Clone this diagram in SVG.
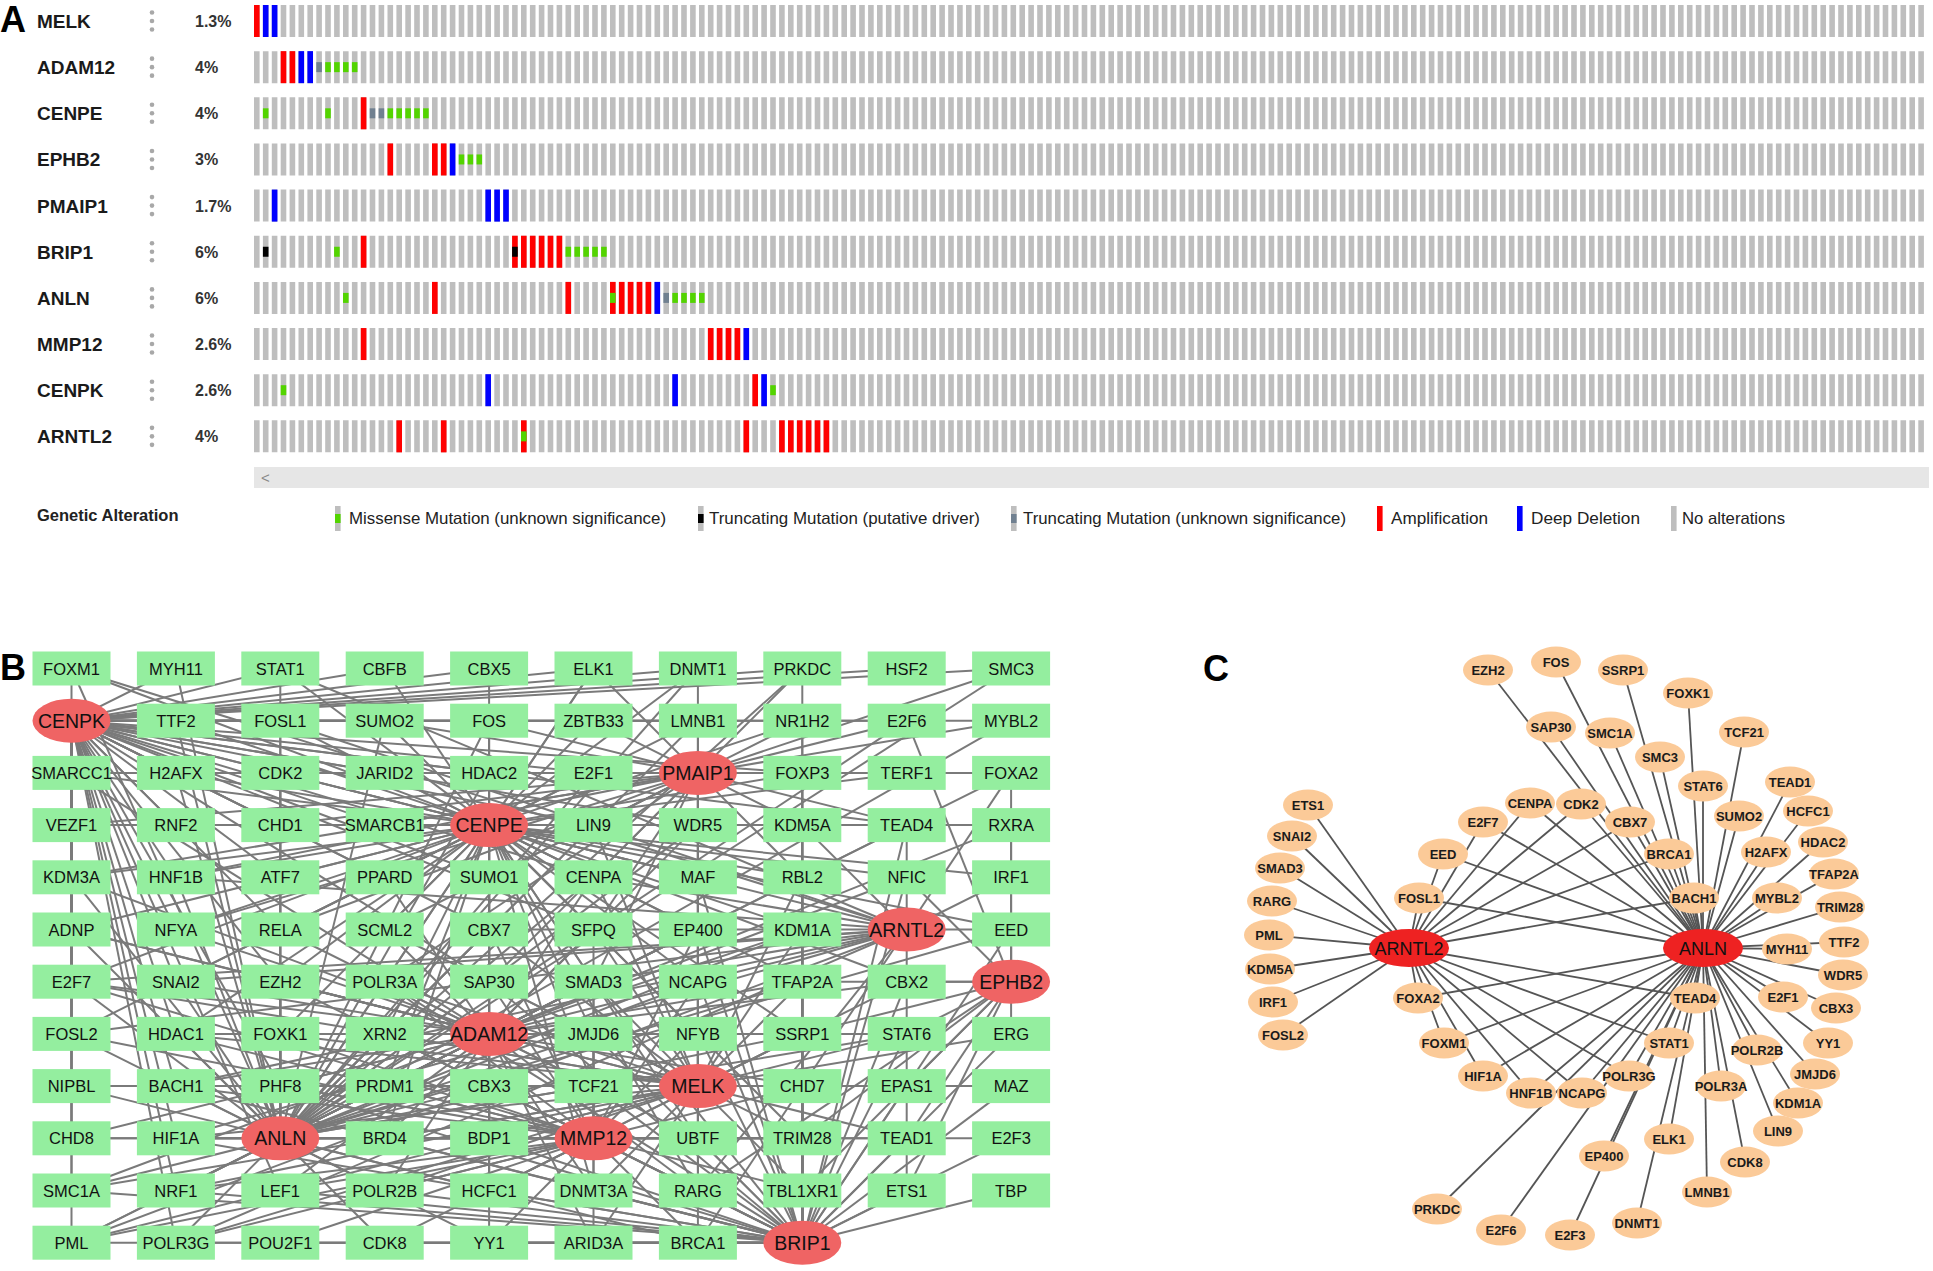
<svg xmlns="http://www.w3.org/2000/svg" width="1933" height="1271" viewBox="0 0 1933 1271">
<style>
text{font-family:"Liberation Sans",Arial,sans-serif}
.pl{font-size:36px;font-weight:bold;fill:#000}
.gn{font-size:19px;font-weight:bold;fill:#1a1a1a}
.pc{font-size:16px;font-weight:bold;fill:#333}
.dt{fill:#a8a8a8}
.track{stroke:#bebebe;stroke-width:32;stroke-dasharray:5.6 3.3}
.amp{fill:#ff0000}.del{fill:#0000ff}.mis{fill:#53d400}.trp{fill:#000}.tru{fill:#708090}.gry{fill:#bebebe}
.lg{font-size:16.5px;fill:#222}
.bn rect{fill:#94ee9f}
.bn text,.bh text{text-anchor:middle;fill:#111}
.bn text{font-size:16.5px}
.bh ellipse{fill:#ef6464}
.bh text{font-size:19.5px}
.eb line{stroke:#7a7a7a;stroke-width:2;vector-effect:non-scaling-stroke}
.ec line{stroke:#555;stroke-width:1.8}
.cs ellipse{fill:#fbca98}
.cs text{font-size:13px;font-weight:bold;text-anchor:middle;fill:#1a1a1a}
.ch ellipse{fill:#ee2222}
.ch text{font-size:18px;text-anchor:middle;fill:#111}
</style>

<!-- ================= Panel A ================= -->
<text class="pl" x="0" y="32">A</text>
<g id="panelA">
<g id="row-MELK" transform="translate(0 5)">
<text class="gn" x="37" y="23">MELK</text>
<circle class="dt" cx="152" cy="7.5" r="2.3"/><circle class="dt" cx="152" cy="16" r="2.3"/><circle class="dt" cx="152" cy="24.5" r="2.3"/>
<text class="pc" x="195" y="22">1.3%</text>
<line class="track" x1="254" y1="16" x2="1924" y2="16"/>
<g transform="translate(254 0) scale(8.9 1)">
<rect class="amp" x="0" width=".63" height="32"/><rect class="del" x="1" width=".63" height="32"/><rect class="del" x="2" width=".63" height="32"/>
</g></g>
<g id="row-ADAM12" transform="translate(0 51.15)">
<text class="gn" x="37" y="23">ADAM12</text>
<circle class="dt" cx="152" cy="7.5" r="2.3"/><circle class="dt" cx="152" cy="16" r="2.3"/><circle class="dt" cx="152" cy="24.5" r="2.3"/>
<text class="pc" x="195" y="22">4%</text>
<line class="track" x1="254" y1="16" x2="1924" y2="16"/>
<g transform="translate(254 0) scale(8.9 1)">
<rect class="amp" x="3" width=".63" height="32"/><rect class="amp" x="4" width=".63" height="32"/><rect class="del" x="5" width=".63" height="32"/><rect class="del" x="6" width=".63" height="32"/>
<rect class="tru" x="7" y="11" width=".63" height="10"/><rect class="mis" x="8" y="11" width=".63" height="10"/><rect class="mis" x="9" y="11" width=".63" height="10"/><rect class="mis" x="10" y="11" width=".63" height="10"/><rect class="mis" x="11" y="11" width=".63" height="10"/>
</g></g>
<g id="row-CENPE" transform="translate(0 97.3)">
<text class="gn" x="37" y="23">CENPE</text>
<circle class="dt" cx="152" cy="7.5" r="2.3"/><circle class="dt" cx="152" cy="16" r="2.3"/><circle class="dt" cx="152" cy="24.5" r="2.3"/>
<text class="pc" x="195" y="22">4%</text>
<line class="track" x1="254" y1="16" x2="1924" y2="16"/>
<g transform="translate(254 0) scale(8.9 1)">
<rect class="mis" x="1" y="11" width=".63" height="10"/><rect class="mis" x="8" y="11" width=".63" height="10"/>
<rect class="amp" x="12" width=".63" height="32"/>
<rect class="tru" x="13" y="11" width=".63" height="10"/><rect class="tru" x="14" y="11" width=".63" height="10"/>
<rect class="mis" x="15" y="11" width=".63" height="10"/><rect class="mis" x="16" y="11" width=".63" height="10"/><rect class="mis" x="17" y="11" width=".63" height="10"/><rect class="mis" x="18" y="11" width=".63" height="10"/><rect class="mis" x="19" y="11" width=".63" height="10"/>
</g></g>
<g id="row-EPHB2" transform="translate(0 143.45)">
<text class="gn" x="37" y="23">EPHB2</text>
<circle class="dt" cx="152" cy="7.5" r="2.3"/><circle class="dt" cx="152" cy="16" r="2.3"/><circle class="dt" cx="152" cy="24.5" r="2.3"/>
<text class="pc" x="195" y="22">3%</text>
<line class="track" x1="254" y1="16" x2="1924" y2="16"/>
<g transform="translate(254 0) scale(8.9 1)">
<rect class="amp" x="15" width=".63" height="32"/><rect class="amp" x="20" width=".63" height="32"/><rect class="amp" x="21" width=".63" height="32"/><rect class="del" x="22" width=".63" height="32"/>
<rect class="mis" x="23" y="11" width=".63" height="10"/><rect class="mis" x="24" y="11" width=".63" height="10"/><rect class="mis" x="25" y="11" width=".63" height="10"/>
</g></g>
<g id="row-PMAIP1" transform="translate(0 189.6)">
<text class="gn" x="37" y="23">PMAIP1</text>
<circle class="dt" cx="152" cy="7.5" r="2.3"/><circle class="dt" cx="152" cy="16" r="2.3"/><circle class="dt" cx="152" cy="24.5" r="2.3"/>
<text class="pc" x="195" y="22">1.7%</text>
<line class="track" x1="254" y1="16" x2="1924" y2="16"/>
<g transform="translate(254 0) scale(8.9 1)">
<rect class="del" x="2" width=".63" height="32"/><rect class="del" x="26" width=".63" height="32"/><rect class="del" x="27" width=".63" height="32"/><rect class="del" x="28" width=".63" height="32"/>
</g></g>
<g id="row-BRIP1" transform="translate(0 235.75)">
<text class="gn" x="37" y="23">BRIP1</text>
<circle class="dt" cx="152" cy="7.5" r="2.3"/><circle class="dt" cx="152" cy="16" r="2.3"/><circle class="dt" cx="152" cy="24.5" r="2.3"/>
<text class="pc" x="195" y="22">6%</text>
<line class="track" x1="254" y1="16" x2="1924" y2="16"/>
<g transform="translate(254 0) scale(8.9 1)">
<rect class="trp" x="1" y="11" width=".63" height="10"/><rect class="mis" x="9" y="11" width=".63" height="10"/>
<rect class="amp" x="12" width=".63" height="32"/>
<rect class="amp" x="29" width=".63" height="32"/><rect class="trp" x="29" y="11" width=".63" height="10"/>
<rect class="amp" x="30" width=".63" height="32"/><rect class="amp" x="31" width=".63" height="32"/><rect class="amp" x="32" width=".63" height="32"/><rect class="amp" x="33" width=".63" height="32"/><rect class="amp" x="34" width=".63" height="32"/>
<rect class="mis" x="35" y="11" width=".63" height="10"/><rect class="mis" x="36" y="11" width=".63" height="10"/><rect class="mis" x="37" y="11" width=".63" height="10"/><rect class="mis" x="38" y="11" width=".63" height="10"/><rect class="mis" x="39" y="11" width=".63" height="10"/>
</g></g>
<g id="row-ANLN" transform="translate(0 281.9)">
<text class="gn" x="37" y="23">ANLN</text>
<circle class="dt" cx="152" cy="7.5" r="2.3"/><circle class="dt" cx="152" cy="16" r="2.3"/><circle class="dt" cx="152" cy="24.5" r="2.3"/>
<text class="pc" x="195" y="22">6%</text>
<line class="track" x1="254" y1="16" x2="1924" y2="16"/>
<g transform="translate(254 0) scale(8.9 1)">
<rect class="mis" x="10" y="11" width=".63" height="10"/>
<rect class="amp" x="20" width=".63" height="32"/><rect class="amp" x="35" width=".63" height="32"/>
<rect class="amp" x="40" width=".63" height="32"/><rect class="mis" x="40" y="11" width=".63" height="10"/>
<rect class="amp" x="41" width=".63" height="32"/><rect class="amp" x="42" width=".63" height="32"/><rect class="amp" x="43" width=".63" height="32"/><rect class="amp" x="44" width=".63" height="32"/>
<rect class="del" x="45" width=".63" height="32"/><rect class="tru" x="46" y="11" width=".63" height="10"/>
<rect class="mis" x="47" y="11" width=".63" height="10"/><rect class="mis" x="48" y="11" width=".63" height="10"/><rect class="mis" x="49" y="11" width=".63" height="10"/><rect class="mis" x="50" y="11" width=".63" height="10"/>
</g></g>
<g id="row-MMP12" transform="translate(0 328.05)">
<text class="gn" x="37" y="23">MMP12</text>
<circle class="dt" cx="152" cy="7.5" r="2.3"/><circle class="dt" cx="152" cy="16" r="2.3"/><circle class="dt" cx="152" cy="24.5" r="2.3"/>
<text class="pc" x="195" y="22">2.6%</text>
<line class="track" x1="254" y1="16" x2="1924" y2="16"/>
<g transform="translate(254 0) scale(8.9 1)">
<rect class="amp" x="12" width=".63" height="32"/>
<rect class="amp" x="51" width=".63" height="32"/><rect class="amp" x="52" width=".63" height="32"/><rect class="amp" x="53" width=".63" height="32"/><rect class="amp" x="54" width=".63" height="32"/><rect class="del" x="55" width=".63" height="32"/>
</g></g>
<g id="row-CENPK" transform="translate(0 374.2)">
<text class="gn" x="37" y="23">CENPK</text>
<circle class="dt" cx="152" cy="7.5" r="2.3"/><circle class="dt" cx="152" cy="16" r="2.3"/><circle class="dt" cx="152" cy="24.5" r="2.3"/>
<text class="pc" x="195" y="22">2.6%</text>
<line class="track" x1="254" y1="16" x2="1924" y2="16"/>
<g transform="translate(254 0) scale(8.9 1)">
<rect class="mis" x="3" y="11" width=".63" height="10"/>
<rect class="del" x="26" width=".63" height="32"/><rect class="del" x="47" width=".63" height="32"/>
<rect class="amp" x="56" width=".63" height="32"/><rect class="del" x="57" width=".63" height="32"/>
<rect class="mis" x="58" y="11" width=".63" height="10"/>
</g></g>
<g id="row-ARNTL2" transform="translate(0 420.35)">
<text class="gn" x="37" y="23">ARNTL2</text>
<circle class="dt" cx="152" cy="7.5" r="2.3"/><circle class="dt" cx="152" cy="16" r="2.3"/><circle class="dt" cx="152" cy="24.5" r="2.3"/>
<text class="pc" x="195" y="22">4%</text>
<line class="track" x1="254" y1="16" x2="1924" y2="16"/>
<g transform="translate(254 0) scale(8.9 1)">
<rect class="amp" x="16" width=".63" height="32"/><rect class="amp" x="21" width=".63" height="32"/>
<rect class="amp" x="30" width=".63" height="32"/><rect class="mis" x="30" y="11" width=".63" height="10"/>
<rect class="amp" x="55" width=".63" height="32"/>
<rect class="amp" x="59" width=".63" height="32"/><rect class="amp" x="60" width=".63" height="32"/><rect class="amp" x="61" width=".63" height="32"/><rect class="amp" x="62" width=".63" height="32"/><rect class="amp" x="63" width=".63" height="32"/><rect class="amp" x="64" width=".63" height="32"/>
</g></g>
<g id="scrollbar">
<rect x="254" y="467" width="1675" height="21" fill="#e6e6e6"/>
<text x="261" y="483" font-size="15" fill="#888">&lt;</text>
</g>
<g id="legend">
<text x="37" y="521" font-size="16.5" font-weight="bold" fill="#222">Genetic Alteration</text>
<rect class="gry" x="335" y="506" width="5.6" height="25"/><rect class="mis" x="335" y="514" width="5.6" height="9"/>
<text class="lg" x="349" y="524" textLength="317" lengthAdjust="spacingAndGlyphs">Missense Mutation (unknown significance)</text>
<rect class="gry" x="698" y="506" width="5.6" height="25"/><rect class="trp" x="698" y="514" width="5.6" height="9"/>
<text class="lg" x="709" y="524" textLength="271" lengthAdjust="spacingAndGlyphs">Truncating Mutation (putative driver)</text>
<rect class="gry" x="1011" y="506" width="5.6" height="25"/><rect class="tru" x="1011" y="514" width="5.6" height="9"/>
<text class="lg" x="1023" y="524" textLength="323" lengthAdjust="spacingAndGlyphs">Truncating Mutation (unknown significance)</text>
<rect class="amp" x="1377" y="506" width="5.6" height="25"/>
<text class="lg" x="1391" y="524" textLength="97" lengthAdjust="spacingAndGlyphs">Amplification</text>
<rect class="del" x="1517" y="506" width="5.6" height="25"/>
<text class="lg" x="1531" y="524" textLength="109" lengthAdjust="spacingAndGlyphs">Deep Deletion</text>
<rect class="gry" x="1671" y="506" width="5.6" height="25"/>
<text class="lg" x="1682" y="524" textLength="103" lengthAdjust="spacingAndGlyphs">No alterations</text>
</g>
</g>

<!-- ================= Panel B ================= -->
<text class="pl" x="0" y="680">B</text>
<g id="connectors-b" class="eb" transform="translate(71.5 668.5) scale(104.4 52.2)">
<g id="eb-CENPK" transform="translate(0 1)">
<line x2="0" y2="-1"/><line x2="1" y2="-1"/><line x2="2" y2="-1"/><line x2="3" y2="-1"/><line x2="4" y2="-1"/><line x2="5" y2="-1"/><line x2="6" y2="-1"/><line x2="7" y2="-1"/><line x2="8" y2="-1"/><line x2="9" y2="-1"/>
<line x2="1" y2="0"/><line x2="2" y2="0"/><line x2="3" y2="0"/><line x2="4" y2="0"/><line x2="6" y2="0"/><line x2="8" y2="0"/><line x2="9" y2="0"/>
<line x2="0" y2="1"/><line x2="1" y2="1"/><line x2="2" y2="1"/><line x2="3" y2="1"/><line x2="4" y2="1"/><line x2="5" y2="1"/><line x2="7" y2="1"/>
<line x2="1" y2="2"/><line x2="2" y2="2"/><line x2="3" y2="2"/><line x2="5" y2="2"/><line x2="6" y2="2"/><line x2="8" y2="2"/><line x2="0" y2="2"/>
<line x2="0" y2="3"/><line x2="1" y2="3"/><line x2="2" y2="3"/><line x2="3" y2="3"/><line x2="4" y2="3"/><line x2="5" y2="3"/><line x2="6" y2="3"/>
<line x2="0" y2="4"/><line x2="1" y2="4"/><line x2="2" y2="4"/><line x2="4" y2="4"/><line x2="5" y2="4"/>
<line x2="1" y2="5"/><line x2="2" y2="5"/><line x2="4" y2="5"/><line x2="0" y2="5"/>
<line x2="1" y2="6"/><line x2="0" y2="6"/><line x2="0" y2="7"/><line x2="1" y2="7"/><line x2="2" y2="7"/>
<line x2="0" y2="8"/><line x2="1" y2="8"/><line x2="0" y2="9"/><line x2="1" y2="9"/><line x2="0" y2="10"/><line x2="1" y2="10"/><line x2="2" y2="9"/>
</g>
<g id="eb-PMAIP1" transform="translate(6 2)">
<line x2="-1" y2="-2"/><line x2="0" y2="-2"/><line x2="1" y2="-2"/><line x2="-1" y2="-1"/><line x2="0" y2="-1"/><line x2="1" y2="-1"/><line x2="2" y2="-1"/>
<line x2="-1" y2="0"/><line x2="1" y2="0"/><line x2="2" y2="0"/><line x2="-1" y2="1"/><line x2="0" y2="1"/><line x2="1" y2="1"/>
<line x2="-1" y2="2"/><line x2="0" y2="2"/><line x2="1" y2="2"/><line x2="-1" y2="3"/><line x2="0" y2="3"/>
<line x2="-2" y2="0"/><line x2="-3" y2="0"/><line x2="-4" y2="0"/><line x2="-5" y2="0"/><line x2="-2" y2="-1"/><line x2="-3" y2="-1"/>
<line x2="-4" y2="1"/><line x2="-3" y2="1"/><line x2="-2" y2="2"/><line x2="-1" y2="4"/><line x2="0" y2="4"/><line x2="2" y2="1"/>
<line x2="3" y2="0"/><line x2="3" y2="-1"/><line x2="3" y2="-2"/><line x2="-6" y2="0"/>
<line x2="-6" y2="1"/><line x2="-6" y2="2"/><line x2="-5" y2="2"/><line x2="-5" y2="3"/><line x2="-4" y2="3"/><line x2="-3" y2="3"/><line x2="-3" y2="4"/><line x2="-2" y2="4"/>
</g>
<g id="eb-CENPE" transform="translate(4 3)">
<line x2="-2" y2="-3"/><line x2="-1" y2="-3"/><line x2="0" y2="-3"/><line x2="1" y2="-3"/><line x2="2" y2="-3"/>
<line x2="-2" y2="-2"/><line x2="-1" y2="-2"/><line x2="0" y2="-2"/><line x2="1" y2="-2"/><line x2="2" y2="-2"/><line x2="3" y2="-2"/>
<line x2="-2" y2="-1"/><line x2="-1" y2="-1"/><line x2="0" y2="-1"/><line x2="1" y2="-1"/><line x2="3" y2="-1"/><line x2="4" y2="-1"/>
<line x2="-2" y2="0"/><line x2="-1" y2="0"/><line x2="1" y2="0"/><line x2="2" y2="0"/><line x2="3" y2="0"/><line x2="5" y2="0"/>
<line x2="-2" y2="1"/><line x2="-1" y2="1"/><line x2="0" y2="1"/><line x2="1" y2="1"/><line x2="2" y2="1"/><line x2="3" y2="1"/><line x2="4" y2="1"/>
<line x2="-2" y2="2"/><line x2="-1" y2="2"/><line x2="0" y2="2"/><line x2="1" y2="2"/><line x2="2" y2="2"/><line x2="3" y2="2"/>
<line x2="-2" y2="3"/><line x2="-1" y2="3"/><line x2="0" y2="3"/><line x2="1" y2="3"/><line x2="2" y2="3"/><line x2="3" y2="3"/><line x2="4" y2="3"/>
<line x2="-2" y2="4"/><line x2="-1" y2="4"/><line x2="1" y2="4"/><line x2="2" y2="4"/><line x2="3" y2="4"/>
<line x2="-1" y2="5"/><line x2="0" y2="5"/><line x2="1" y2="5"/><line x2="-1" y2="6"/><line x2="0" y2="6"/><line x2="2" y2="6"/><line x2="3" y2="6"/>
<line x2="0" y2="7"/><line x2="1" y2="7"/><line x2="2" y2="7"/>
<line x2="-3" y2="1"/><line x2="-3" y2="0"/><line x2="-3" y2="-1"/><line x2="-3" y2="-2"/><line x2="5" y2="1"/><line x2="5" y2="2"/><line x2="-4" y2="0"/><line x2="-4" y2="-3"/>
<line x2="-4" y2="1"/><line x2="-4" y2="2"/><line x2="-4" y2="3"/><line x2="-4" y2="-1"/><line x2="-3" y2="2"/><line x2="-3" y2="3"/><line x2="-3" y2="4"/><line x2="-4" y2="4"/>
</g>
<g id="eb-ARNTL2" transform="translate(8 5)">
<line x2="0" y2="5"/><line x2="-7" y2="1"/><line x2="-3" y2="1"/><line x2="-2" y2="5"/><line x2="-8" y2="6"/><line x2="-1" y2="-2"/><line x2="1" y2="-1"/><line x2="-8" y2="2"/>
<line x2="1" y2="0"/><line x2="-8" y2="1"/><line x2="-6" y2="-4"/><line x2="-3" y2="-1"/><line x2="-6" y2="-3"/><line x2="-4" y2="0"/><line x2="-7" y2="3"/><line x2="-2" y2="6"/>
<line x2="1" y2="-3"/><line x2="0" y2="-2"/><line x2="-8" y2="-5"/><line x2="-7" y2="4"/><line x2="-7" y2="-1"/><line x2="-2" y2="1"/><line x2="-7" y2="6"/><line x2="-6" y2="-5"/>
</g>
<g id="eb-ANLN" transform="translate(2 9)">
<line x2="0" y2="-3"/><line x2="2" y2="-8"/><line x2="5" y2="-2"/><line x2="0" y2="-2"/><line x2="2" y2="-3"/><line x2="-2" y2="1"/><line x2="3" y2="-1"/><line x2="7" y2="-9"/>
<line x2="6" y2="-2"/><line x2="6" y2="0"/><line x2="2" y2="1"/><line x2="1" y2="-8"/><line x2="2" y2="-7"/><line x2="-1" y2="-7"/><line x2="4" y2="2"/><line x2="5" y2="-3"/>
<line x2="7" y2="-8"/><line x2="5" y2="0"/><line x2="-1" y2="-8"/><line x2="-1" y2="-9"/><line x2="4" y2="-6"/><line x2="3" y2="-7"/><line x2="2" y2="-1"/><line x2="2" y2="2"/>
<line x2="3" y2="-2"/><line x2="1" y2="1"/><line x2="5" y2="-4"/><line x2="3" y2="-6"/><line x2="1" y2="-3"/><line x2="1" y2="2"/><line x2="4" y2="-8"/><line x2="3" y2="-9"/>
<line x2="4" y2="-4"/><line x2="4" y2="-9"/><line x2="7" y2="0"/><line x2="6" y2="-8"/><line x2="5" y2="-9"/><line x2="7" y2="-4"/><line x2="-2" y2="-3"/><line x2="0" y2="-8"/>
<line x2="3" y2="-5"/><line x2="0" y2="-7"/><line x2="2" y2="-4"/><line x2="-1" y2="-1"/><line x2="7" y2="-7"/><line x2="6" y2="-6"/><line x2="-2" y2="-9"/><line x2="-1" y2="0"/>
<line x2="-1" y2="-5"/><line x2="4" y2="-3"/><line x2="-1" y2="2"/><line x2="0" y2="-9"/>
<line x2="-2" y2="-2"/><line x2="-2" y2="-1"/><line x2="-2" y2="0"/><line x2="-1" y2="1"/><line x2="-2" y2="2"/><line x2="-1" y2="-2"/><line x2="-2" y2="-4"/><line x2="-2" y2="-5"/><line x2="-1" y2="-3"/>
</g>
<g id="eb-ADAM12" transform="translate(4 7)">
<line x2="0" y2="-1"/><line x2="0" y2="-2"/><line x2="0" y2="-3"/><line x2="-1" y2="-1"/><line x2="1" y2="-1"/><line x2="2" y2="-1"/><line x2="-1" y2="0"/><line x2="1" y2="0"/>
<line x2="2" y2="0"/><line x2="3" y2="0"/><line x2="-1" y2="1"/><line x2="0" y2="1"/><line x2="1" y2="1"/><line x2="-2" y2="1"/><line x2="-1" y2="2"/><line x2="0" y2="2"/>
<line x2="2" y2="2"/><line x2="0" y2="3"/><line x2="-1" y2="3"/><line x2="1" y2="3"/><line x2="2" y2="3"/><line x2="-2" y2="-1"/><line x2="-2" y2="0"/><line x2="-1" y2="-2"/>
<line x2="1" y2="-2"/><line x2="2" y2="-2"/><line x2="3" y2="-2"/><line x2="3" y2="-1"/><line x2="4" y2="-1"/><line x2="4" y2="0"/><line x2="3" y2="1"/><line x2="-2" y2="3"/>
<line x2="0" y2="4"/><line x2="1" y2="4"/><line x2="1" y2="-3"/><line x2="-1" y2="-3"/><line x2="-2" y2="-2"/><line x2="-3" y2="0"/><line x2="-3" y2="1"/><line x2="5" y2="-4"/>
<line x2="4" y2="-3"/><line x2="2" y2="-4"/>
<line x2="-4" y2="-5"/><line x2="-4" y2="-3"/><line x2="-4" y2="-2"/><line x2="-4" y2="-1"/><line x2="-3" y2="-2"/><line x2="-3" y2="-1"/><line x2="-4" y2="2"/><line x2="-3" y2="3"/><line x2="-4" y2="3"/><line x2="-4" y2="4"/>
</g>
<g id="eb-MELK" transform="translate(6 8)">
<line x2="0" y2="-1"/><line x2="0" y2="-2"/><line x2="0" y2="-3"/><line x2="-1" y2="-1"/><line x2="1" y2="-1"/><line x2="-1" y2="0"/><line x2="1" y2="0"/><line x2="0" y2="1"/>
<line x2="1" y2="1"/><line x2="0" y2="2"/><line x2="1" y2="2"/><line x2="-1" y2="2"/><line x2="0" y2="3"/><line x2="-1" y2="3"/><line x2="-1" y2="-2"/><line x2="1" y2="-2"/>
<line x2="-2" y2="0"/><line x2="-2" y2="1"/><line x2="-2" y2="2"/><line x2="-1" y2="-3"/><line x2="1" y2="-3"/><line x2="0" y2="-4"/><line x2="-1" y2="-4"/><line x2="1" y2="-4"/>
<line x2="0" y2="-5"/><line x2="-1" y2="-5"/><line x2="2" y2="0"/><line x2="2" y2="-1"/><line x2="2" y2="-2"/><line x2="2" y2="1"/><line x2="-3" y2="-1"/><line x2="-3" y2="0"/>
<line x2="-2" y2="-2"/><line x2="-2" y2="-3"/><line x2="-3" y2="-2"/><line x2="-3" y2="1"/><line x2="-3" y2="2"/><line x2="-5" y2="-1"/><line x2="-5" y2="0"/><line x2="-6" y2="0"/>
<line x2="-4" y2="0"/><line x2="-4" y2="-1"/><line x2="-4" y2="-2"/><line x2="-3" y2="-3"/><line x2="3" y2="0"/><line x2="3" y2="-1"/>
<line x2="-6" y2="-2"/><line x2="-6" y2="2"/><line x2="-6" y2="3"/><line x2="-5" y2="2"/><line x2="-5" y2="3"/><line x2="-5" y2="1"/><line x2="-6" y2="-3"/>
</g>
<g id="eb-MMP12" transform="translate(5 9)">
<line x2="0" y2="-1"/><line x2="0" y2="-2"/><line x2="0" y2="-3"/><line x2="0" y2="1"/><line x2="0" y2="2"/><line x2="-1" y2="0"/><line x2="1" y2="0"/><line x2="2" y2="0"/>
<line x2="-1" y2="-1"/><line x2="-1" y2="1"/><line x2="1" y2="1"/><line x2="-1" y2="2"/><line x2="1" y2="2"/><line x2="1" y2="-2"/><line x2="2" y2="-1"/><line x2="2" y2="1"/>
<line x2="-2" y2="0"/><line x2="-2" y2="-1"/><line x2="-2" y2="1"/><line x2="-2" y2="2"/><line x2="-2" y2="-2"/><line x2="2" y2="-2"/><line x2="-1" y2="-3"/><line x2="1" y2="-3"/>
<line x2="1" y2="-4"/><line x2="0" y2="-4"/><line x2="-1" y2="-4"/><line x2="-2" y2="-3"/><line x2="-3" y2="-2"/><line x2="-3" y2="-1"/><line x2="-3" y2="1"/><line x2="-4" y2="1"/>
<line x2="-4" y2="0"/><line x2="-5" y2="0"/><line x2="-3" y2="2"/>
<line x2="-5" y2="-3"/><line x2="-5" y2="-2"/><line x2="-4" y2="-2"/><line x2="-4" y2="-1"/><line x2="-5" y2="2"/><line x2="-4" y2="2"/>
</g>
<g id="eb-BRIP1" transform="translate(7 11)">
<line x2="-1" y2="0"/><line x2="-2" y2="0"/><line x2="-3" y2="0"/><line x2="-4" y2="0"/><line x2="-5" y2="0"/><line x2="-6" y2="0"/><line x2="-7" y2="0"/><line x2="0" y2="-1"/>
<line x2="-1" y2="-1"/><line x2="-2" y2="-1"/><line x2="-3" y2="-1"/><line x2="-4" y2="-1"/><line x2="1" y2="-1"/><line x2="2" y2="-1"/><line x2="0" y2="-2"/><line x2="-1" y2="-2"/>
<line x2="1" y2="-2"/><line x2="2" y2="-2"/><line x2="0" y2="-3"/><line x2="1" y2="-3"/><line x2="2" y2="-3"/><line x2="0" y2="-4"/><line x2="-1" y2="-4"/><line x2="1" y2="-4"/>
<line x2="2" y2="-4"/><line x2="0" y2="-5"/><line x2="-1" y2="-5"/><line x2="1" y2="-5"/><line x2="0" y2="-6"/><line x2="-1" y2="-6"/><line x2="0" y2="-7"/><line x2="-1" y2="-7"/>
<line x2="0" y2="-8"/><line x2="0" y2="-9"/><line x2="0" y2="-10"/><line x2="0" y2="-11"/><line x2="-3" y2="-2"/><line x2="-3" y2="-3"/><line x2="-2" y2="-3"/><line x2="-2" y2="-4"/>
<line x2="-4" y2="-2"/><line x2="-5" y2="-1"/><line x2="-6" y2="-1"/><line x2="-7" y2="-1"/><line x2="-6" y2="-2"/><line x2="-3" y2="-5"/><line x2="-2" y2="-5"/><line x2="1" y2="-7"/>
<line x2="1" y2="-8"/><line x2="2" y2="-6"/>
<line x2="-4" y2="-4"/><line x2="-5" y2="-3"/><line x2="-6" y2="-3"/><line x2="-4" y2="-5"/><line x2="-5" y2="-5"/>
</g>
<g id="eb-EPHB2" transform="translate(9 6)">
<line x2="-1" y2="0"/><line x2="0" y2="-1"/><line x2="0" y2="1"/><line x2="0" y2="-3"/><line x2="-1" y2="1"/><line x2="-1" y2="2"/><line x2="-1" y2="-2"/><line x2="-1" y2="3"/>
<line x2="-1" y2="4"/><line x2="-2" y2="1"/><line x2="-2" y2="0"/><line x2="0" y2="-4"/><line x2="-1" y2="-5"/>
<line x2="-2" y2="3"/><line x2="-2" y2="4"/><line x2="-3" y2="4"/>
</g>
</g>

<g id="nodes-b">
<g id="b-FOXM1" class="bn" transform="translate(71.5 668.5)"><rect x="-39" y="-17" width="78" height="34"/><text y="6">FOXM1</text></g>
<g id="b-MYH11" class="bn" transform="translate(175.9 668.5)"><rect x="-39" y="-17" width="78" height="34"/><text y="6">MYH11</text></g>
<g id="b-STAT1" class="bn" transform="translate(280.3 668.5)"><rect x="-39" y="-17" width="78" height="34"/><text y="6">STAT1</text></g>
<g id="b-CBFB" class="bn" transform="translate(384.7 668.5)"><rect x="-39" y="-17" width="78" height="34"/><text y="6">CBFB</text></g>
<g id="b-CBX5" class="bn" transform="translate(489.1 668.5)"><rect x="-39" y="-17" width="78" height="34"/><text y="6">CBX5</text></g>
<g id="b-ELK1" class="bn" transform="translate(593.5 668.5)"><rect x="-39" y="-17" width="78" height="34"/><text y="6">ELK1</text></g>
<g id="b-DNMT1" class="bn" transform="translate(697.9 668.5)"><rect x="-39" y="-17" width="78" height="34"/><text y="6">DNMT1</text></g>
<g id="b-PRKDC" class="bn" transform="translate(802.3 668.5)"><rect x="-39" y="-17" width="78" height="34"/><text y="6">PRKDC</text></g>
<g id="b-HSF2" class="bn" transform="translate(906.7 668.5)"><rect x="-39" y="-17" width="78" height="34"/><text y="6">HSF2</text></g>
<g id="b-SMC3" class="bn" transform="translate(1011.1 668.5)"><rect x="-39" y="-17" width="78" height="34"/><text y="6">SMC3</text></g>

<g id="b-CENPK" class="bh" transform="translate(71.5 720.7)"><ellipse rx="39" ry="22"/><text y="7">CENPK</text></g>
<g id="b-TTF2" class="bn" transform="translate(175.9 720.7)"><rect x="-39" y="-17" width="78" height="34"/><text y="6">TTF2</text></g>
<g id="b-FOSL1" class="bn" transform="translate(280.3 720.7)"><rect x="-39" y="-17" width="78" height="34"/><text y="6">FOSL1</text></g>
<g id="b-SUMO2" class="bn" transform="translate(384.7 720.7)"><rect x="-39" y="-17" width="78" height="34"/><text y="6">SUMO2</text></g>
<g id="b-FOS" class="bn" transform="translate(489.1 720.7)"><rect x="-39" y="-17" width="78" height="34"/><text y="6">FOS</text></g>
<g id="b-ZBTB33" class="bn" transform="translate(593.5 720.7)"><rect x="-39" y="-17" width="78" height="34"/><text y="6">ZBTB33</text></g>
<g id="b-LMNB1" class="bn" transform="translate(697.9 720.7)"><rect x="-39" y="-17" width="78" height="34"/><text y="6">LMNB1</text></g>
<g id="b-NR1H2" class="bn" transform="translate(802.3 720.7)"><rect x="-39" y="-17" width="78" height="34"/><text y="6">NR1H2</text></g>
<g id="b-E2F6" class="bn" transform="translate(906.7 720.7)"><rect x="-39" y="-17" width="78" height="34"/><text y="6">E2F6</text></g>
<g id="b-MYBL2" class="bn" transform="translate(1011.1 720.7)"><rect x="-39" y="-17" width="78" height="34"/><text y="6">MYBL2</text></g>

<g id="b-SMARCC1" class="bn" transform="translate(71.5 772.9)"><rect x="-39" y="-17" width="78" height="34"/><text y="6">SMARCC1</text></g>
<g id="b-H2AFX" class="bn" transform="translate(175.9 772.9)"><rect x="-39" y="-17" width="78" height="34"/><text y="6">H2AFX</text></g>
<g id="b-CDK2" class="bn" transform="translate(280.3 772.9)"><rect x="-39" y="-17" width="78" height="34"/><text y="6">CDK2</text></g>
<g id="b-JARID2" class="bn" transform="translate(384.7 772.9)"><rect x="-39" y="-17" width="78" height="34"/><text y="6">JARID2</text></g>
<g id="b-HDAC2" class="bn" transform="translate(489.1 772.9)"><rect x="-39" y="-17" width="78" height="34"/><text y="6">HDAC2</text></g>
<g id="b-E2F1" class="bn" transform="translate(593.5 772.9)"><rect x="-39" y="-17" width="78" height="34"/><text y="6">E2F1</text></g>
<g id="b-PMAIP1" class="bh" transform="translate(697.9 772.9)"><ellipse rx="39" ry="22"/><text y="7">PMAIP1</text></g>
<g id="b-FOXP3" class="bn" transform="translate(802.3 772.9)"><rect x="-39" y="-17" width="78" height="34"/><text y="6">FOXP3</text></g>
<g id="b-TERF1" class="bn" transform="translate(906.7 772.9)"><rect x="-39" y="-17" width="78" height="34"/><text y="6">TERF1</text></g>
<g id="b-FOXA2" class="bn" transform="translate(1011.1 772.9)"><rect x="-39" y="-17" width="78" height="34"/><text y="6">FOXA2</text></g>

<g id="b-VEZF1" class="bn" transform="translate(71.5 825.1)"><rect x="-39" y="-17" width="78" height="34"/><text y="6">VEZF1</text></g>
<g id="b-RNF2" class="bn" transform="translate(175.9 825.1)"><rect x="-39" y="-17" width="78" height="34"/><text y="6">RNF2</text></g>
<g id="b-CHD1" class="bn" transform="translate(280.3 825.1)"><rect x="-39" y="-17" width="78" height="34"/><text y="6">CHD1</text></g>
<g id="b-SMARCB1" class="bn" transform="translate(384.7 825.1)"><rect x="-39" y="-17" width="78" height="34"/><text y="6">SMARCB1</text></g>
<g id="b-CENPE" class="bh" transform="translate(489.1 825.1)"><ellipse rx="39" ry="22"/><text y="7">CENPE</text></g>
<g id="b-LIN9" class="bn" transform="translate(593.5 825.1)"><rect x="-39" y="-17" width="78" height="34"/><text y="6">LIN9</text></g>
<g id="b-WDR5" class="bn" transform="translate(697.9 825.1)"><rect x="-39" y="-17" width="78" height="34"/><text y="6">WDR5</text></g>
<g id="b-KDM5A" class="bn" transform="translate(802.3 825.1)"><rect x="-39" y="-17" width="78" height="34"/><text y="6">KDM5A</text></g>
<g id="b-TEAD4" class="bn" transform="translate(906.7 825.1)"><rect x="-39" y="-17" width="78" height="34"/><text y="6">TEAD4</text></g>
<g id="b-RXRA" class="bn" transform="translate(1011.1 825.1)"><rect x="-39" y="-17" width="78" height="34"/><text y="6">RXRA</text></g>

<g id="b-KDM3A" class="bn" transform="translate(71.5 877.3)"><rect x="-39" y="-17" width="78" height="34"/><text y="6">KDM3A</text></g>
<g id="b-HNF1B" class="bn" transform="translate(175.9 877.3)"><rect x="-39" y="-17" width="78" height="34"/><text y="6">HNF1B</text></g>
<g id="b-ATF7" class="bn" transform="translate(280.3 877.3)"><rect x="-39" y="-17" width="78" height="34"/><text y="6">ATF7</text></g>
<g id="b-PPARD" class="bn" transform="translate(384.7 877.3)"><rect x="-39" y="-17" width="78" height="34"/><text y="6">PPARD</text></g>
<g id="b-SUMO1" class="bn" transform="translate(489.1 877.3)"><rect x="-39" y="-17" width="78" height="34"/><text y="6">SUMO1</text></g>
<g id="b-CENPA" class="bn" transform="translate(593.5 877.3)"><rect x="-39" y="-17" width="78" height="34"/><text y="6">CENPA</text></g>
<g id="b-MAF" class="bn" transform="translate(697.9 877.3)"><rect x="-39" y="-17" width="78" height="34"/><text y="6">MAF</text></g>
<g id="b-RBL2" class="bn" transform="translate(802.3 877.3)"><rect x="-39" y="-17" width="78" height="34"/><text y="6">RBL2</text></g>
<g id="b-NFIC" class="bn" transform="translate(906.7 877.3)"><rect x="-39" y="-17" width="78" height="34"/><text y="6">NFIC</text></g>
<g id="b-IRF1" class="bn" transform="translate(1011.1 877.3)"><rect x="-39" y="-17" width="78" height="34"/><text y="6">IRF1</text></g>

<g id="b-ADNP" class="bn" transform="translate(71.5 929.5)"><rect x="-39" y="-17" width="78" height="34"/><text y="6">ADNP</text></g>
<g id="b-NFYA" class="bn" transform="translate(175.9 929.5)"><rect x="-39" y="-17" width="78" height="34"/><text y="6">NFYA</text></g>
<g id="b-RELA" class="bn" transform="translate(280.3 929.5)"><rect x="-39" y="-17" width="78" height="34"/><text y="6">RELA</text></g>
<g id="b-SCML2" class="bn" transform="translate(384.7 929.5)"><rect x="-39" y="-17" width="78" height="34"/><text y="6">SCML2</text></g>
<g id="b-CBX7" class="bn" transform="translate(489.1 929.5)"><rect x="-39" y="-17" width="78" height="34"/><text y="6">CBX7</text></g>
<g id="b-SFPQ" class="bn" transform="translate(593.5 929.5)"><rect x="-39" y="-17" width="78" height="34"/><text y="6">SFPQ</text></g>
<g id="b-EP400" class="bn" transform="translate(697.9 929.5)"><rect x="-39" y="-17" width="78" height="34"/><text y="6">EP400</text></g>
<g id="b-KDM1A" class="bn" transform="translate(802.3 929.5)"><rect x="-39" y="-17" width="78" height="34"/><text y="6">KDM1A</text></g>
<g id="b-ARNTL2" class="bh" transform="translate(906.7 929.5)"><ellipse rx="39" ry="22"/><text y="7">ARNTL2</text></g>
<g id="b-EED" class="bn" transform="translate(1011.1 929.5)"><rect x="-39" y="-17" width="78" height="34"/><text y="6">EED</text></g>

<g id="b-E2F7" class="bn" transform="translate(71.5 981.7)"><rect x="-39" y="-17" width="78" height="34"/><text y="6">E2F7</text></g>
<g id="b-SNAI2" class="bn" transform="translate(175.9 981.7)"><rect x="-39" y="-17" width="78" height="34"/><text y="6">SNAI2</text></g>
<g id="b-EZH2" class="bn" transform="translate(280.3 981.7)"><rect x="-39" y="-17" width="78" height="34"/><text y="6">EZH2</text></g>
<g id="b-POLR3A" class="bn" transform="translate(384.7 981.7)"><rect x="-39" y="-17" width="78" height="34"/><text y="6">POLR3A</text></g>
<g id="b-SAP30" class="bn" transform="translate(489.1 981.7)"><rect x="-39" y="-17" width="78" height="34"/><text y="6">SAP30</text></g>
<g id="b-SMAD3" class="bn" transform="translate(593.5 981.7)"><rect x="-39" y="-17" width="78" height="34"/><text y="6">SMAD3</text></g>
<g id="b-NCAPG" class="bn" transform="translate(697.9 981.7)"><rect x="-39" y="-17" width="78" height="34"/><text y="6">NCAPG</text></g>
<g id="b-TFAP2A" class="bn" transform="translate(802.3 981.7)"><rect x="-39" y="-17" width="78" height="34"/><text y="6">TFAP2A</text></g>
<g id="b-CBX2" class="bn" transform="translate(906.7 981.7)"><rect x="-39" y="-17" width="78" height="34"/><text y="6">CBX2</text></g>
<g id="b-EPHB2" class="bh" transform="translate(1011.1 981.7)"><ellipse rx="39" ry="22"/><text y="7">EPHB2</text></g>

<g id="b-FOSL2" class="bn" transform="translate(71.5 1033.9)"><rect x="-39" y="-17" width="78" height="34"/><text y="6">FOSL2</text></g>
<g id="b-HDAC1" class="bn" transform="translate(175.9 1033.9)"><rect x="-39" y="-17" width="78" height="34"/><text y="6">HDAC1</text></g>
<g id="b-FOXK1" class="bn" transform="translate(280.3 1033.9)"><rect x="-39" y="-17" width="78" height="34"/><text y="6">FOXK1</text></g>
<g id="b-XRN2" class="bn" transform="translate(384.7 1033.9)"><rect x="-39" y="-17" width="78" height="34"/><text y="6">XRN2</text></g>
<g id="b-ADAM12" class="bh" transform="translate(489.1 1033.9)"><ellipse rx="39" ry="22"/><text y="7">ADAM12</text></g>
<g id="b-JMJD6" class="bn" transform="translate(593.5 1033.9)"><rect x="-39" y="-17" width="78" height="34"/><text y="6">JMJD6</text></g>
<g id="b-NFYB" class="bn" transform="translate(697.9 1033.9)"><rect x="-39" y="-17" width="78" height="34"/><text y="6">NFYB</text></g>
<g id="b-SSRP1" class="bn" transform="translate(802.3 1033.9)"><rect x="-39" y="-17" width="78" height="34"/><text y="6">SSRP1</text></g>
<g id="b-STAT6" class="bn" transform="translate(906.7 1033.9)"><rect x="-39" y="-17" width="78" height="34"/><text y="6">STAT6</text></g>
<g id="b-ERG" class="bn" transform="translate(1011.1 1033.9)"><rect x="-39" y="-17" width="78" height="34"/><text y="6">ERG</text></g>

<g id="b-NIPBL" class="bn" transform="translate(71.5 1086.1)"><rect x="-39" y="-17" width="78" height="34"/><text y="6">NIPBL</text></g>
<g id="b-BACH1" class="bn" transform="translate(175.9 1086.1)"><rect x="-39" y="-17" width="78" height="34"/><text y="6">BACH1</text></g>
<g id="b-PHF8" class="bn" transform="translate(280.3 1086.1)"><rect x="-39" y="-17" width="78" height="34"/><text y="6">PHF8</text></g>
<g id="b-PRDM1" class="bn" transform="translate(384.7 1086.1)"><rect x="-39" y="-17" width="78" height="34"/><text y="6">PRDM1</text></g>
<g id="b-CBX3" class="bn" transform="translate(489.1 1086.1)"><rect x="-39" y="-17" width="78" height="34"/><text y="6">CBX3</text></g>
<g id="b-TCF21" class="bn" transform="translate(593.5 1086.1)"><rect x="-39" y="-17" width="78" height="34"/><text y="6">TCF21</text></g>
<g id="b-MELK" class="bh" transform="translate(697.9 1086.1)"><ellipse rx="39" ry="22"/><text y="7">MELK</text></g>
<g id="b-CHD7" class="bn" transform="translate(802.3 1086.1)"><rect x="-39" y="-17" width="78" height="34"/><text y="6">CHD7</text></g>
<g id="b-EPAS1" class="bn" transform="translate(906.7 1086.1)"><rect x="-39" y="-17" width="78" height="34"/><text y="6">EPAS1</text></g>
<g id="b-MAZ" class="bn" transform="translate(1011.1 1086.1)"><rect x="-39" y="-17" width="78" height="34"/><text y="6">MAZ</text></g>

<g id="b-CHD8" class="bn" transform="translate(71.5 1138.3)"><rect x="-39" y="-17" width="78" height="34"/><text y="6">CHD8</text></g>
<g id="b-HIF1A" class="bn" transform="translate(175.9 1138.3)"><rect x="-39" y="-17" width="78" height="34"/><text y="6">HIF1A</text></g>
<g id="b-ANLN" class="bh" transform="translate(280.3 1138.3)"><ellipse rx="39" ry="22"/><text y="7">ANLN</text></g>
<g id="b-BRD4" class="bn" transform="translate(384.7 1138.3)"><rect x="-39" y="-17" width="78" height="34"/><text y="6">BRD4</text></g>
<g id="b-BDP1" class="bn" transform="translate(489.1 1138.3)"><rect x="-39" y="-17" width="78" height="34"/><text y="6">BDP1</text></g>
<g id="b-MMP12" class="bh" transform="translate(593.5 1138.3)"><ellipse rx="39" ry="22"/><text y="7">MMP12</text></g>
<g id="b-UBTF" class="bn" transform="translate(697.9 1138.3)"><rect x="-39" y="-17" width="78" height="34"/><text y="6">UBTF</text></g>
<g id="b-TRIM28" class="bn" transform="translate(802.3 1138.3)"><rect x="-39" y="-17" width="78" height="34"/><text y="6">TRIM28</text></g>
<g id="b-TEAD1" class="bn" transform="translate(906.7 1138.3)"><rect x="-39" y="-17" width="78" height="34"/><text y="6">TEAD1</text></g>
<g id="b-E2F3" class="bn" transform="translate(1011.1 1138.3)"><rect x="-39" y="-17" width="78" height="34"/><text y="6">E2F3</text></g>

<g id="b-SMC1A" class="bn" transform="translate(71.5 1190.5)"><rect x="-39" y="-17" width="78" height="34"/><text y="6">SMC1A</text></g>
<g id="b-NRF1" class="bn" transform="translate(175.9 1190.5)"><rect x="-39" y="-17" width="78" height="34"/><text y="6">NRF1</text></g>
<g id="b-LEF1" class="bn" transform="translate(280.3 1190.5)"><rect x="-39" y="-17" width="78" height="34"/><text y="6">LEF1</text></g>
<g id="b-POLR2B" class="bn" transform="translate(384.7 1190.5)"><rect x="-39" y="-17" width="78" height="34"/><text y="6">POLR2B</text></g>
<g id="b-HCFC1" class="bn" transform="translate(489.1 1190.5)"><rect x="-39" y="-17" width="78" height="34"/><text y="6">HCFC1</text></g>
<g id="b-DNMT3A" class="bn" transform="translate(593.5 1190.5)"><rect x="-39" y="-17" width="78" height="34"/><text y="6">DNMT3A</text></g>
<g id="b-RARG" class="bn" transform="translate(697.9 1190.5)"><rect x="-39" y="-17" width="78" height="34"/><text y="6">RARG</text></g>
<g id="b-TBL1XR1" class="bn" transform="translate(802.3 1190.5)"><rect x="-39" y="-17" width="78" height="34"/><text y="6">TBL1XR1</text></g>
<g id="b-ETS1" class="bn" transform="translate(906.7 1190.5)"><rect x="-39" y="-17" width="78" height="34"/><text y="6">ETS1</text></g>
<g id="b-TBP" class="bn" transform="translate(1011.1 1190.5)"><rect x="-39" y="-17" width="78" height="34"/><text y="6">TBP</text></g>

<g id="b-PML" class="bn" transform="translate(71.5 1242.7)"><rect x="-39" y="-17" width="78" height="34"/><text y="6">PML</text></g>
<g id="b-POLR3G" class="bn" transform="translate(175.9 1242.7)"><rect x="-39" y="-17" width="78" height="34"/><text y="6">POLR3G</text></g>
<g id="b-POU2F1" class="bn" transform="translate(280.3 1242.7)"><rect x="-39" y="-17" width="78" height="34"/><text y="6">POU2F1</text></g>
<g id="b-CDK8" class="bn" transform="translate(384.7 1242.7)"><rect x="-39" y="-17" width="78" height="34"/><text y="6">CDK8</text></g>
<g id="b-YY1" class="bn" transform="translate(489.1 1242.7)"><rect x="-39" y="-17" width="78" height="34"/><text y="6">YY1</text></g>
<g id="b-ARID3A" class="bn" transform="translate(593.5 1242.7)"><rect x="-39" y="-17" width="78" height="34"/><text y="6">ARID3A</text></g>
<g id="b-BRCA1" class="bn" transform="translate(697.9 1242.7)"><rect x="-39" y="-17" width="78" height="34"/><text y="6">BRCA1</text></g>
<g id="b-BRIP1" class="bh" transform="translate(802.3 1242.7)"><ellipse rx="39" ry="22"/><text y="7">BRIP1</text></g>
</g>

<!-- ================= Panel C ================= -->
<text class="pl" x="1203" y="681">C</text>
<g id="connectors-c" class="ec">
<g id="ec-ARNTL2" transform="translate(1409 948)">
<line x2="-101" y2="-143"/><line x2="-117" y2="-112"/><line x2="-129" y2="-80"/><line x2="-137" y2="-47"/><line x2="-140" y2="-13"/><line x2="-139" y2="21"/><line x2="-136" y2="54"/><line x2="-126" y2="87"/>
<line x2="34" y2="-94"/><line x2="74" y2="-126"/><line x2="10" y2="-50"/><line x2="121" y2="-145"/><line x2="172" y2="-144"/><line x2="221" y2="-126"/><line x2="285" y2="-50"/><line x2="260" y2="-94"/>
<line x2="9" y2="50"/><line x2="286" y2="50"/><line x2="35" y2="95"/><line x2="74" y2="128"/><line x2="122" y2="145"/><line x2="173" y2="145"/><line x2="220" y2="128"/><line x2="260" y2="95"/>
</g>
<g id="ec-ANLN" transform="translate(1703 948)">
<line x2="-260" y2="-94"/><line x2="-220" y2="-126"/><line x2="-284" y2="-50"/><line x2="-173" y2="-145"/><line x2="-122" y2="-144"/><line x2="-73" y2="-126"/><line x2="-9" y2="-50"/><line x2="-34" y2="-94"/>
<line x2="-285" y2="50"/><line x2="-8" y2="50"/><line x2="-259" y2="95"/><line x2="-220" y2="128"/><line x2="-172" y2="145"/><line x2="-121" y2="145"/><line x2="-74" y2="128"/><line x2="-34" y2="95"/>
<line x2="-215" y2="-278"/><line x2="-147" y2="-286"/><line x2="-80" y2="-278"/><line x2="-15" y2="-255"/><line x2="-152" y2="-221"/><line x2="-93" y2="-215"/><line x2="41" y2="-216"/><line x2="-43" y2="-191"/>
<line x2="0" y2="-162"/><line x2="87" y2="-166"/><line x2="105" y2="-137"/><line x2="36" y2="-132"/><line x2="120" y2="-106"/><line x2="63" y2="-96"/><line x2="131" y2="-74"/><line x2="74" y2="-50"/>
<line x2="137" y2="-41"/><line x2="141" y2="-6"/><line x2="84" y2="1"/><line x2="140" y2="27"/><line x2="80" y2="49"/><line x2="133" y2="60"/><line x2="125" y2="95"/><line x2="54" y2="102"/>
<line x2="112" y2="126"/><line x2="18" y2="138"/><line x2="95" y2="155"/><line x2="75" y2="183"/><line x2="-34" y2="191"/><line x2="-99" y2="208"/><line x2="42" y2="214"/><line x2="4" y2="244"/>
<line x2="-266" y2="261"/><line x2="-66" y2="275"/><line x2="-202" y2="282"/><line x2="-133" y2="287"/>
</g>
</g>

<g id="nodes-c">
<g id="c-ETS1" class="cs" transform="translate(1308 805)"><ellipse rx="25" ry="15.5"/><text y="4.5">ETS1</text></g>
<g id="c-SNAI2" class="cs" transform="translate(1292 836)"><ellipse rx="25" ry="15.5"/><text y="4.5">SNAI2</text></g>
<g id="c-SMAD3" class="cs" transform="translate(1280 868)"><ellipse rx="25" ry="15.5"/><text y="4.5">SMAD3</text></g>
<g id="c-RARG" class="cs" transform="translate(1272 901)"><ellipse rx="25" ry="15.5"/><text y="4.5">RARG</text></g>
<g id="c-PML" class="cs" transform="translate(1269 935)"><ellipse rx="25" ry="15.5"/><text y="4.5">PML</text></g>
<g id="c-KDM5A" class="cs" transform="translate(1270 969)"><ellipse rx="25" ry="15.5"/><text y="4.5">KDM5A</text></g>
<g id="c-IRF1" class="cs" transform="translate(1273 1002)"><ellipse rx="25" ry="15.5"/><text y="4.5">IRF1</text></g>
<g id="c-FOSL2" class="cs" transform="translate(1283 1035)"><ellipse rx="25" ry="15.5"/><text y="4.5">FOSL2</text></g>
<g id="c-EED" class="cs" transform="translate(1443 854)"><ellipse rx="25" ry="15.5"/><text y="4.5">EED</text></g>
<g id="c-E2F7" class="cs" transform="translate(1483 822)"><ellipse rx="25" ry="15.5"/><text y="4.5">E2F7</text></g>
<g id="c-FOSL1" class="cs" transform="translate(1419 898)"><ellipse rx="25" ry="15.5"/><text y="4.5">FOSL1</text></g>
<g id="c-CENPA" class="cs" transform="translate(1530 803)"><ellipse rx="25" ry="15.5"/><text y="4.5">CENPA</text></g>
<g id="c-CDK2" class="cs" transform="translate(1581 804)"><ellipse rx="25" ry="15.5"/><text y="4.5">CDK2</text></g>
<g id="c-CBX7" class="cs" transform="translate(1630 822)"><ellipse rx="25" ry="15.5"/><text y="4.5">CBX7</text></g>
<g id="c-BACH1" class="cs" transform="translate(1694 898)"><ellipse rx="25" ry="15.5"/><text y="4.5">BACH1</text></g>
<g id="c-BRCA1" class="cs" transform="translate(1669 854)"><ellipse rx="25" ry="15.5"/><text y="4.5">BRCA1</text></g>
<g id="c-FOXA2" class="cs" transform="translate(1418 998)"><ellipse rx="25" ry="15.5"/><text y="4.5">FOXA2</text></g>
<g id="c-TEAD4" class="cs" transform="translate(1695 998)"><ellipse rx="25" ry="15.5"/><text y="4.5">TEAD4</text></g>
<g id="c-FOXM1" class="cs" transform="translate(1444 1043)"><ellipse rx="25" ry="15.5"/><text y="4.5">FOXM1</text></g>
<g id="c-HIF1A" class="cs" transform="translate(1483 1076)"><ellipse rx="25" ry="15.5"/><text y="4.5">HIF1A</text></g>
<g id="c-HNF1B" class="cs" transform="translate(1531 1093)"><ellipse rx="25" ry="15.5"/><text y="4.5">HNF1B</text></g>
<g id="c-NCAPG" class="cs" transform="translate(1582 1093)"><ellipse rx="25" ry="15.5"/><text y="4.5">NCAPG</text></g>
<g id="c-POLR3G" class="cs" transform="translate(1629 1076)"><ellipse rx="25" ry="15.5"/><text y="4.5">POLR3G</text></g>
<g id="c-STAT1" class="cs" transform="translate(1669 1043)"><ellipse rx="25" ry="15.5"/><text y="4.5">STAT1</text></g>
<g id="c-EZH2" class="cs" transform="translate(1488 670)"><ellipse rx="25" ry="15.5"/><text y="4.5">EZH2</text></g>
<g id="c-FOS" class="cs" transform="translate(1556 662)"><ellipse rx="25" ry="15.5"/><text y="4.5">FOS</text></g>
<g id="c-SSRP1" class="cs" transform="translate(1623 670)"><ellipse rx="25" ry="15.5"/><text y="4.5">SSRP1</text></g>
<g id="c-FOXK1" class="cs" transform="translate(1688 693)"><ellipse rx="25" ry="15.5"/><text y="4.5">FOXK1</text></g>
<g id="c-SAP30" class="cs" transform="translate(1551 727)"><ellipse rx="25" ry="15.5"/><text y="4.5">SAP30</text></g>
<g id="c-SMC1A" class="cs" transform="translate(1610 733)"><ellipse rx="25" ry="15.5"/><text y="4.5">SMC1A</text></g>
<g id="c-TCF21" class="cs" transform="translate(1744 732)"><ellipse rx="25" ry="15.5"/><text y="4.5">TCF21</text></g>
<g id="c-SMC3" class="cs" transform="translate(1660 757)"><ellipse rx="25" ry="15.5"/><text y="4.5">SMC3</text></g>
<g id="c-STAT6" class="cs" transform="translate(1703 786)"><ellipse rx="25" ry="15.5"/><text y="4.5">STAT6</text></g>
<g id="c-TEAD1" class="cs" transform="translate(1790 782)"><ellipse rx="25" ry="15.5"/><text y="4.5">TEAD1</text></g>
<g id="c-HCFC1" class="cs" transform="translate(1808 811)"><ellipse rx="25" ry="15.5"/><text y="4.5">HCFC1</text></g>
<g id="c-SUMO2" class="cs" transform="translate(1739 816)"><ellipse rx="25" ry="15.5"/><text y="4.5">SUMO2</text></g>
<g id="c-HDAC2" class="cs" transform="translate(1823 842)"><ellipse rx="25" ry="15.5"/><text y="4.5">HDAC2</text></g>
<g id="c-H2AFX" class="cs" transform="translate(1766 852)"><ellipse rx="25" ry="15.5"/><text y="4.5">H2AFX</text></g>
<g id="c-TFAP2A" class="cs" transform="translate(1834 874)"><ellipse rx="25" ry="15.5"/><text y="4.5">TFAP2A</text></g>
<g id="c-MYBL2" class="cs" transform="translate(1777 898)"><ellipse rx="25" ry="15.5"/><text y="4.5">MYBL2</text></g>
<g id="c-TRIM28" class="cs" transform="translate(1840 907)"><ellipse rx="25" ry="15.5"/><text y="4.5">TRIM28</text></g>
<g id="c-TTF2" class="cs" transform="translate(1844 942)"><ellipse rx="25" ry="15.5"/><text y="4.5">TTF2</text></g>
<g id="c-MYH11" class="cs" transform="translate(1787 949)"><ellipse rx="25" ry="15.5"/><text y="4.5">MYH11</text></g>
<g id="c-WDR5" class="cs" transform="translate(1843 975)"><ellipse rx="25" ry="15.5"/><text y="4.5">WDR5</text></g>
<g id="c-E2F1" class="cs" transform="translate(1783 997)"><ellipse rx="25" ry="15.5"/><text y="4.5">E2F1</text></g>
<g id="c-CBX3" class="cs" transform="translate(1836 1008)"><ellipse rx="25" ry="15.5"/><text y="4.5">CBX3</text></g>
<g id="c-YY1" class="cs" transform="translate(1828 1043)"><ellipse rx="25" ry="15.5"/><text y="4.5">YY1</text></g>
<g id="c-POLR2B" class="cs" transform="translate(1757 1050)"><ellipse rx="25" ry="15.5"/><text y="4.5">POLR2B</text></g>
<g id="c-JMJD6" class="cs" transform="translate(1815 1074)"><ellipse rx="25" ry="15.5"/><text y="4.5">JMJD6</text></g>
<g id="c-POLR3A" class="cs" transform="translate(1721 1086)"><ellipse rx="25" ry="15.5"/><text y="4.5">POLR3A</text></g>
<g id="c-KDM1A" class="cs" transform="translate(1798 1103)"><ellipse rx="25" ry="15.5"/><text y="4.5">KDM1A</text></g>
<g id="c-LIN9" class="cs" transform="translate(1778 1131)"><ellipse rx="25" ry="15.5"/><text y="4.5">LIN9</text></g>
<g id="c-ELK1" class="cs" transform="translate(1669 1139)"><ellipse rx="25" ry="15.5"/><text y="4.5">ELK1</text></g>
<g id="c-EP400" class="cs" transform="translate(1604 1156)"><ellipse rx="25" ry="15.5"/><text y="4.5">EP400</text></g>
<g id="c-CDK8" class="cs" transform="translate(1745 1162)"><ellipse rx="25" ry="15.5"/><text y="4.5">CDK8</text></g>
<g id="c-LMNB1" class="cs" transform="translate(1707 1192)"><ellipse rx="25" ry="15.5"/><text y="4.5">LMNB1</text></g>
<g id="c-PRKDC" class="cs" transform="translate(1437 1209)"><ellipse rx="25" ry="15.5"/><text y="4.5">PRKDC</text></g>
<g id="c-DNMT1" class="cs" transform="translate(1637 1223)"><ellipse rx="25" ry="15.5"/><text y="4.5">DNMT1</text></g>
<g id="c-E2F6" class="cs" transform="translate(1501 1230)"><ellipse rx="25" ry="15.5"/><text y="4.5">E2F6</text></g>
<g id="c-E2F3" class="cs" transform="translate(1570 1235)"><ellipse rx="25" ry="15.5"/><text y="4.5">E2F3</text></g>
<g id="c-ARNTL2" class="ch" transform="translate(1409 948)"><ellipse rx="40" ry="19"/><text y="6.5">ARNTL2</text></g>
<g id="c-ANLN" class="ch" transform="translate(1703 948)"><ellipse rx="40" ry="19"/><text y="6.5">ANLN</text></g>
</g>
</svg>
